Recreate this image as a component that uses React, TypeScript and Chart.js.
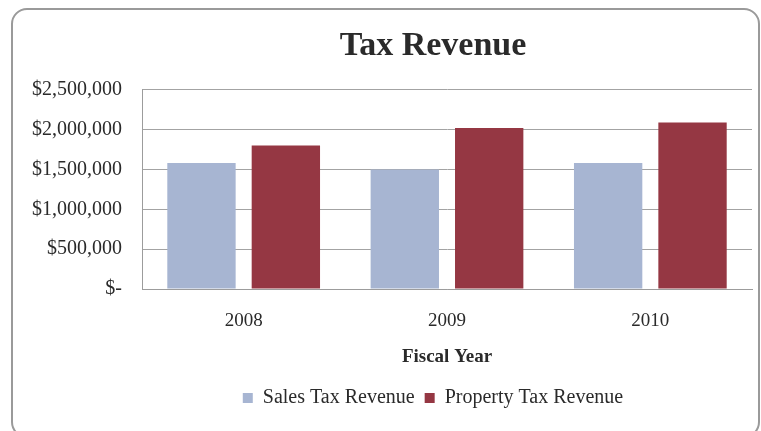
import React, { useEffect, useRef } from "react";
import { Chart, registerables } from "chart.js";

Chart.register(...registerables);

const categories = ["2008", "2009", "2010"];
const seriesNames = ["Sales Tax Revenue", "Property Tax Revenue"];
const salesTaxRevenue = [1580000, 1500000, 1580000];
const propertyTaxRevenue = [1800000, 2020000, 2090000];
const yTickValues = [0, 500000, 1000000, 1500000, 2000000, 2500000];

const FONT = "'Liberation Serif', 'Times New Roman', serif";
const TEXT = "#2a2a2a";

const formatMoney = (v: number) =>
  v === 0 ? "$-" : "$" + v.toLocaleString("en-US");

const shiftPlugin = {
  id: "shiftBoxes",
  afterLayout(chart: any, _args: any, opts: any) {
    const dx = (opts && opts.dx) || 0;
    const legendDy = (opts && opts.legendDy) || 0;
    [chart.titleBlock, chart.legend].forEach((b: any) => {
      if (b) {
        b.left += dx;
        b.right += dx;
      }
    });
    if (chart.legend) {
      chart.legend.top += legendDy;
      chart.legend.bottom += legendDy;
    }
  },
};

export default function App() {
  const ref = useRef<HTMLCanvasElement | null>(null);

  useEffect(() => {
    if (!ref.current) return;
    const chart = new Chart(ref.current, {
      type: "bar",
      data: {
        labels: categories,
        datasets: [
          {
            label: seriesNames[0],
            data: salesTaxRevenue,
            backgroundColor: "#a7b5d2",
            barPercentage: 0.81,
            categoryPercentage: 0.83,
          },
          {
            label: seriesNames[1],
            data: propertyTaxRevenue,
            backgroundColor: "#953743",
            barPercentage: 0.81,
            categoryPercentage: 0.83,
          },
        ],
      },
      plugins: [shiftPlugin],
      options: {
        animation: false,
        responsive: true,
        maintainAspectRatio: false,
        events: [],
        layout: { padding: { top: 9, left: 12, right: 9, bottom: 15 } },
        scales: {
          x: {
            afterFit: (scale: any) => {
              scale.height = 87;
            },
            grid: { display: false, drawTicks: false },
            border: { display: true, color: "#9c9c9c", width: 1 },
            ticks: {
              color: TEXT,
              padding: 21,
              font: { family: FONT, size: 19 },
            },
            title: {
              display: true,
              text: "Fiscal Year",
              color: TEXT,
              font: { family: FONT, size: 19, weight: "bold" },
              padding: { top: 4, bottom: 8 },
            },
          },
          y: {
            min: 0,
            max: 2500000,
            afterBuildTicks: (scale: any) => {
              scale.ticks = yTickValues.map((v) => ({ value: v }));
            },
            afterFit: (scale: any) => {
              scale.width = 130;
            },
            grid: { color: "#a3a3a3", lineWidth: 1, drawTicks: false },
            border: { display: true, color: "#9c9c9c", width: 1 },
            ticks: {
              color: TEXT,
              padding: 20,
              font: { family: FONT, size: 20 },
              callback: (v: any) => formatMoney(Number(v)),
            },
          },
        },
        plugins: {
          shiftBoxes: { dx: 51, legendDy: 2 },
          title: {
            display: true,
            text: "Tax Revenue",
            color: TEXT,
            font: { family: FONT, size: 34, weight: "bold" },
            padding: { top: 17, bottom: 23 },
          },
          legend: {
            position: "bottom",
            labels: {
              color: TEXT,
              boxWidth: 10,
              boxHeight: 10,
              padding: 10,
              font: { family: FONT, size: 20 },
            },
          },
          tooltip: { enabled: false },
        },
      } as any,
    });
    return () => chart.destroy();
  }, []);

  return (
    <>
      <div
        style={{
          position: "fixed",
          left: 11,
          top: 8,
          width: 749,
          height: 430,
          boxSizing: "border-box",
          border: "2px solid #9a9a9a",
          borderRadius: 16,
          background: "#fff",
        }}
      />
      <div
        style={{
          position: "fixed",
          left: 0,
          top: 0,
          width: 761,
          height: 431,
        }}
      >
        <canvas ref={ref} />
      </div>
    </>
  );
}
